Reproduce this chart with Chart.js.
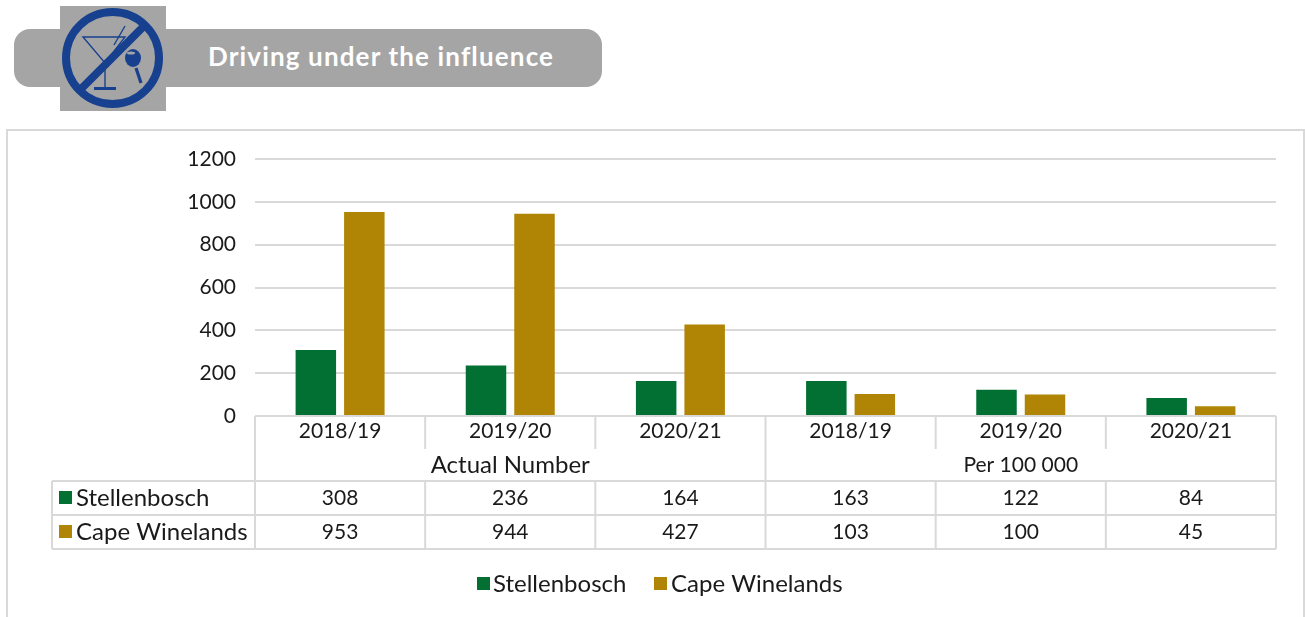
<!DOCTYPE html>
<html><head><meta charset="utf-8">
<script src="https://cdn.jsdelivr.net/npm/chart.js@4"></script>
<style>
html,body{margin:0;padding:0;background:#fff;width:1305px;height:617px;overflow:hidden;font-family:Lato,sans-serif}
#box{position:absolute;left:6px;top:129px;width:1299px;height:520px;border:2px solid #d9d9d9;box-sizing:border-box}
#bar{position:absolute;left:14px;top:29px;width:588px;height:58px;background:#a5a5a5;border-radius:16px;color:#fff;font:bold 26px Lato,sans-serif;line-height:54px;text-indent:194px;letter-spacing:1.15px}
#icon{position:absolute;left:60px;top:6px;width:106px;height:105px}
canvas{position:absolute;left:0;top:0}
</style></head><body>
<div id="box"></div>
<div id="bar">Driving under the influence</div>
<svg id="icon" viewBox="0 0 106 105">
<rect width="106" height="105" fill="#a5a5a5"/>
<g fill="none" stroke="#17408f" stroke-width="1.4">
<path d="M23 31H65L45 57Z"/><path d="M45 57V82"/><path d="M54 39L65 20"/>
</g>
<path d="M34 81H56V84H34Z" fill="#17408f"/>
<path d="M76 62L81 77" stroke="#17408f" stroke-width="3.2"/>
<ellipse cx="73" cy="52" rx="8" ry="9" fill="#17408f"/>
<ellipse cx="71" cy="47" rx="4" ry="1.5" fill="#a5a5a5"/>
<ellipse cx="52.5" cy="52" rx="46.5" ry="46" fill="none" stroke="#17408f" stroke-width="8"/>
<path d="M21 83L85 19" stroke="#17408f" stroke-width="8"/>
</svg>
<canvas id="c" width="1305" height="617"></canvas>
<script>
const years=["2018/19","2019/20","2020/21","2018/19","2019/20","2020/21"];
const groups=["Actual Number","Per 100 000"];
const stellenbosch=[308,236,164,163,122,84];
const capeWinelands=[953,944,427,103,100,45];
const yTicks=[0,200,400,600,800,1000,1200];
const GREEN="#037033",GOLD="#b08506",LINE="#d9d9d9",TXT="#1a1a1a",FONT="Lato, sans-serif";

const tablePlugin={id:"table",afterDraw(ch){
  const g=ch.ctx,x=ch.scales.x,y0=ch.chartArea.bottom;
  const L=ch.chartArea.left,R=ch.chartArea.right,step=(R-L)/years.length;
  const r1=y0+33,r2=y0+65,r3=y0+99,r4=y0+133,lx=52;
  const ds=ch.data.datasets;
  g.save();
  g.strokeStyle=LINE;g.lineWidth=2;
  const ln=(a,b,c,d)=>{g.beginPath();g.moveTo(a,b);g.lineTo(c,d);g.stroke();};
  ln(L,y0,R,y0);
  ln(lx,r2,R,r2);ln(lx,r3,R,r3);ln(lx,r4,R,r4);
  ln(lx,r2,lx,r4);
  for(let i=0;i<=years.length;i++){
    const vx=L+i*step;
    if(i===0||i===3||i===6) ln(vx,y0,vx,r4);
    else {ln(vx,y0,vx,r1);ln(vx,r2,vx,r4);}
  }
  g.fillStyle=TXT;g.textBaseline="middle";g.textAlign="center";
  [24,21].forEach((sz,i)=>{g.font=sz+"px "+FONT;g.fillText(groups[i],L+step*(i*3+1.5),y0+49);});
  g.font="21px "+FONT;
  years.forEach((_,i)=>{
    const cx=x.getPixelForValue(i);
    g.fillText(String(stellenbosch[i]),cx,y0+82);
    g.fillText(String(capeWinelands[i]),cx,y0+116);
  });
  g.textAlign="left";g.font="24px "+FONT;
  g.fillText(ds[0].label,76,y0+82);
  g.fillText(ds[1].label,76,y0+116);
  // legend row under the table
  g.fillText(ds[0].label,493,y0+168);
  g.fillText(ds[1].label,671,y0+168);
  g.fillStyle=GREEN;g.fillRect(59,y0+75,13,13);g.fillRect(477,y0+161,13,13);
  g.fillStyle=GOLD;g.fillRect(59,y0+109,13,13);g.fillRect(654,y0+161,13,13);
  g.restore();
}};

new Chart(document.getElementById("c"),{
  type:"bar",
  data:{labels:years,datasets:[
    {label:"Stellenbosch",data:stellenbosch,backgroundColor:GREEN,categoryPercentage:.57,barPercentage:.835},
    {label:"Cape Winelands",data:capeWinelands,backgroundColor:GOLD,categoryPercentage:.57,barPercentage:.835}
  ]},
  options:{
    responsive:false,animation:false,
    layout:{padding:{left:0,right:29,top:159,bottom:53}},
    plugins:{tooltip:{enabled:false},title:{display:false},legend:{display:false}},
    scales:{
      x:{grid:{display:false,drawTicks:false,tickLength:0},border:{display:false},
         ticks:{color:TXT,font:{family:FONT,size:21},padding:3,maxRotation:0,autoSkip:false},
         afterFit(s){s.height=148;}},
      y:{min:0,max:1200,afterFit(s){s.width=255;},
         afterBuildTicks(s){s.ticks=yTicks.map(v=>({value:v}));},
         grid:{color:LINE,lineWidth:2,drawTicks:false},border:{display:false},
         ticks:{color:TXT,font:{family:FONT,size:21},padding:19,callback:v=>String(v)}}
    }
  },
  plugins:[tablePlugin]
});
</script>
</body></html>
